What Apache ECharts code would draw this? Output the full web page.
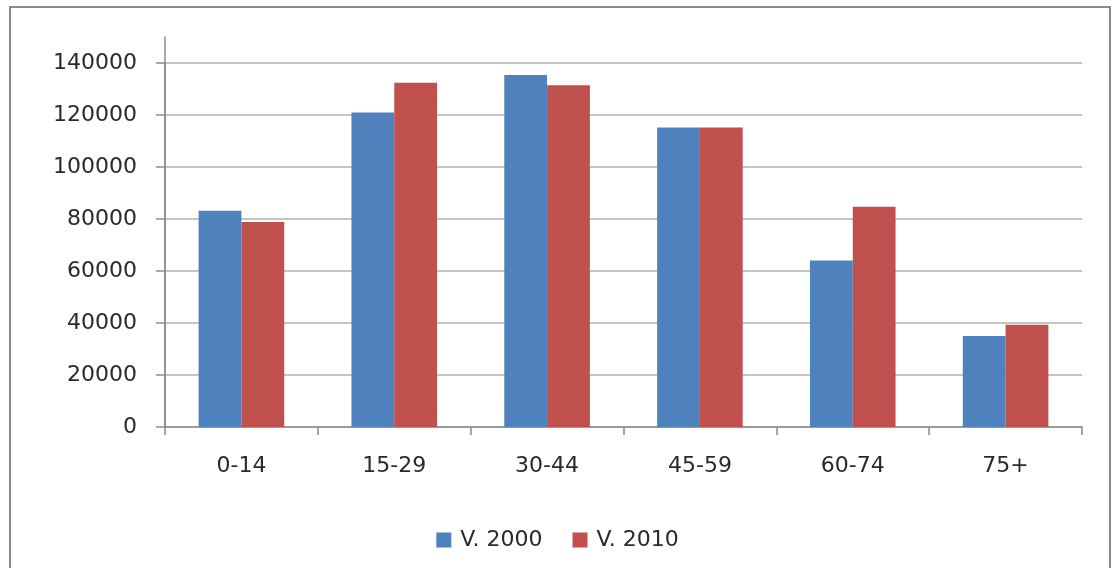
<!DOCTYPE html>
<html>
<head>
<meta charset="utf-8">
<script src="https://cdn.jsdelivr.net/npm/echarts@6/dist/echarts.min.js"></script>
<style>
  html, body { margin: 0; padding: 0; background: #fff; }
  #chart { width: 1115px; height: 568px; }
</style>
</head>
<body>
<div id="chart"></div>
<script>
// Age groups and population counts per census year
const ageGroups = ['0-14', '15-29', '30-44', '45-59', '60-74', '75+'];
const v2000 = [83200, 121000, 135400, 115200, 64000, 35000];
const v2010 = [78800, 132400, 131400, 115200, 84700, 39300];
const seriesNames = ['V. 2000', 'V. 2010'];
const yTicks = { min: 0, max: 140000, step: 20000 };

const FONT = 'DejaVu Sans';
const TEXT = '#2a2a2a';
const AXIS = '#8c8c8c';
const GRID = '#b0b0b0';

const chart = echarts.init(document.getElementById('chart'), null, { renderer: 'canvas' });

chart.setOption({
  animation: false,
  backgroundColor: '#ffffff',
  textStyle: { fontFamily: FONT },
  graphic: [{
    type: 'rect',
    shape: { x: 10, y: 7, width: 1100, height: 600 },
    style: { fill: 'none', stroke: '#8a8a8a', lineWidth: 2 },
    silent: true,
    z: -1
  }],
  legend: {
    data: seriesNames,
    left: 'center',
    top: 524,
    itemWidth: 15,
    itemHeight: 15,
    itemGap: 30,
    icon: 'rect',
    textStyle: { fontFamily: FONT, fontSize: 22, color: TEXT, padding: [0, 0, 0, 4] }
  },
  grid: [
    { left: 165, right: 33, top: 63, bottom: 141, containLabel: false },
    // extends the value axis line a little above the top gridline
    { left: 165, right: 33, top: 37, bottom: 141, containLabel: false }
  ],
  xAxis: [{
    type: 'category',
    gridIndex: 0,
    data: ageGroups,
    axisLine: { lineStyle: { color: AXIS, width: 1.5 } },
    axisTick: { show: true, alignWithLabel: false, length: 8, lineStyle: { color: AXIS, width: 1.5 } },
    axisLabel: { fontFamily: FONT, fontSize: 22, color: TEXT, margin: 28 },
    splitLine: { show: false }
  }, {
    type: 'category',
    gridIndex: 1,
    data: ageGroups,
    show: false
  }],
  yAxis: [{
    type: 'value',
    gridIndex: 0,
    min: yTicks.min,
    max: yTicks.max,
    interval: yTicks.step,
    axisLine: { show: true, lineStyle: { color: AXIS, width: 1.5 } },
    axisTick: { show: true, length: 9, lineStyle: { color: AXIS, width: 1.5 } },
    axisLabel: {
      fontFamily: FONT, fontSize: 22, color: TEXT, margin: 28,
      formatter: v => String(v)
    },
    splitLine: { show: true, lineStyle: { color: GRID, width: 1.5 } }
  }, {
    type: 'value',
    gridIndex: 1,
    min: 0,
    max: 150000,
    axisLine: { show: true, lineStyle: { color: AXIS, width: 1.5 } },
    axisTick: { show: false },
    axisLabel: { show: false },
    splitLine: { show: false }
  }],
  series: [{
    name: seriesNames[0],
    type: 'bar',
    xAxisIndex: 0,
    yAxisIndex: 0,
    data: v2000,
    barGap: '0%',
    barCategoryGap: '44%',
    itemStyle: { color: '#4f81bd' }
  }, {
    name: seriesNames[1],
    type: 'bar',
    xAxisIndex: 0,
    yAxisIndex: 0,
    data: v2010,
    barGap: '0%',
    barCategoryGap: '44%',
    itemStyle: { color: '#c0504d' }
  }]
});
</script>
</body>
</html>
